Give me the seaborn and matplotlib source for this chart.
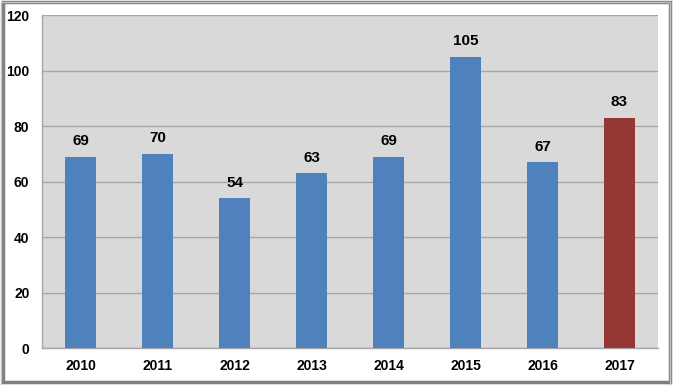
import matplotlib
matplotlib.use('Agg')
import matplotlib.pyplot as plt
import seaborn as sns
import pandas as pd
import numpy as np
from matplotlib.patches import Rectangle

# 数据
years = ['2010', '2011', '2012', '2013', '2014', '2015', '2016', '2017']
values = [69, 70, 54, 63, 69, 105, 67, 83]
colors = ['#4F81BD'] * 7 + ['#953735']

df = pd.DataFrame({'year': years, 'value': values})

sns.set_style('white')
plt.rcParams['font.family'] = ['Liberation Sans', 'DejaVu Sans']
plt.rcParams['text.color'] = 'black'
plt.rcParams['xtick.color'] = 'black'
plt.rcParams['ytick.color'] = 'black'

fig = plt.figure(figsize=(6.73, 3.85), dpi=100)
ax = fig.add_axes([0.0624, 0.0961, 0.9153, 0.8649])

sns.barplot(data=df, x='year', y='value', hue='year', palette=colors,
            legend=False, width=0.4, ax=ax, saturation=1, zorder=3,
            edgecolor='none', linewidth=0)

ax.set_facecolor('#D9D9D9')
ax.set_ylim(0, 120)
ax.set_xlim(-0.5, len(years) - 0.5)
ax.set_yticks(np.arange(0, 121, 20))
ax.yaxis.grid(True, color='#A6A6A6', linewidth=1, zorder=0)
ax.set_axisbelow(True)
ax.set_xlabel('')
ax.set_ylabel('')

for s in ['top', 'right']:
    ax.spines[s].set_visible(False)
for s in ['left', 'bottom']:
    ax.spines[s].set_color('#A6A6A6')
    ax.spines[s].set_linewidth(1)

ax.tick_params(axis='y', length=4, color='#A6A6A6', labelcolor='black', labelsize=10, pad=5)
ax.tick_params(axis='x', which='major', length=0, labelcolor='black', labelsize=10, pad=8)
ax.set_xticks(np.arange(-0.5, len(years)), minor=True)
ax.tick_params(axis='x', which='minor', length=5, color='#A6A6A6')
for lbl in ax.get_xticklabels() + ax.get_yticklabels():
    lbl.set_fontweight('bold')

# 数值标签
for i, v in enumerate(values):
    ax.text(i, v + 3, str(v), ha='center', va='bottom', fontsize=11,
            fontweight='bold', color='black')

# 外框和阴影
fig.patches.append(Rectangle((0.004, 0.008), 0.992, 0.988, transform=fig.transFigure,
                             fill=False, edgecolor='#7F7F7F', linewidth=2.5))
fig.patches.append(Rectangle((0.001, 0.001), 0.995, 0.995, transform=fig.transFigure,
                             fill=False, edgecolor='#BFBFBF', linewidth=1))

plt.savefig('out.png', dpi=100)
